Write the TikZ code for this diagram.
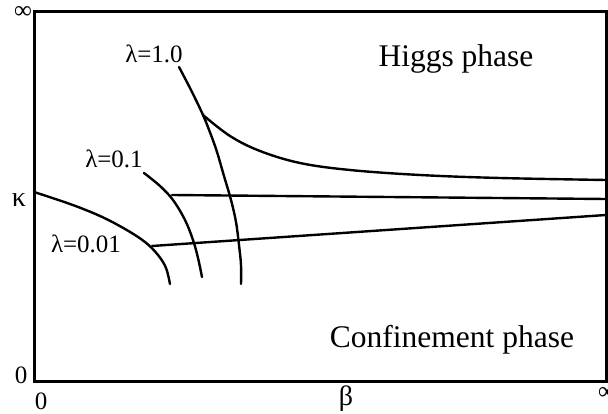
\documentclass[tikz,border=0pt]{standalone}
\usepackage{fontspec}
\setmainfont{Liberation Serif}
\begin{document}
\begin{tikzpicture}[x=1pt,y=-1pt,
  frame/.style={line width=3pt},
  curve/.style={line width=2.4pt,line cap=round,line join=round},
  lbl/.style={inner sep=0pt,font=\fontsize{25}{29}\selectfont},
  greek/.style={inner sep=0pt,font=\fontsize{28}{32}\selectfont},
  phase/.style={inner sep=0pt,anchor=base,font=\fontsize{31.5}{36}\selectfont}]
\useasboundingbox (0,0) rectangle (608,414);
% frame
\coordinate (tl) at (34,12);
\coordinate (br) at (606,381);
\draw[frame] (tl) rectangle (br);
% axis labels
\node[lbl] (inftop) at (23,13) {∞};
\node[greek] (kappa) at (19,200) {κ};
\node[lbl] (zeroy) at (21,375) {0};
\node[lbl] (zerox) at (41,401) {0};
\node[greek] (beta) at (346,399) {β};
\node[lbl] (infright) at (607,393) {∞};
% phase labels
\node[phase] (higgs) at (456,67) {Higgs phase};
\node[phase] (conf) at (452,347) {Confinement phase};
% lambda labels
\node[lbl] (l10) at (154,54) {λ=1.0};
\node[lbl] (l01) at (114,159) {λ=0.1};
\node[lbl] (l001) at (86,244) {λ=0.01};
% lambda = 1.0 curve
\draw[curve] plot[smooth,tension=0.6] coordinates {(179,67) (191,90) (203,115) (211,135) (217,152) (224,176) (231,200) (236,222) (239,245) (241,265) (241,284)};
% Higgs boundary
\draw[curve] plot[smooth,tension=0.6] coordinates {(203,115) (230,136) (260,151) (300,163) (350,170) (420,175) (500,178) (606,180)};
% lambda = 0.1 curve
\draw[curve] plot[smooth,tension=0.6] coordinates {(144,173) (160,186) (173,200) (185,220) (193,240) (198,258) (202,277)};
% lambda = 0.01 curve
\draw[curve] plot[smooth,tension=0.6] coordinates {(34,192) (70,204) (100,216) (125,229) (145,242) (158,255) (166,268) (170,284)};
% horizontal lines
\coordinate (m1) at (172,195);
\coordinate (m2) at (606,199);
\draw[curve] (m1) -- (m2);
\coordinate (n1) at (152,246);
\coordinate (n2) at (606,215);
\draw[curve] (n1) -- (n2);
\end{tikzpicture}
\end{document}
